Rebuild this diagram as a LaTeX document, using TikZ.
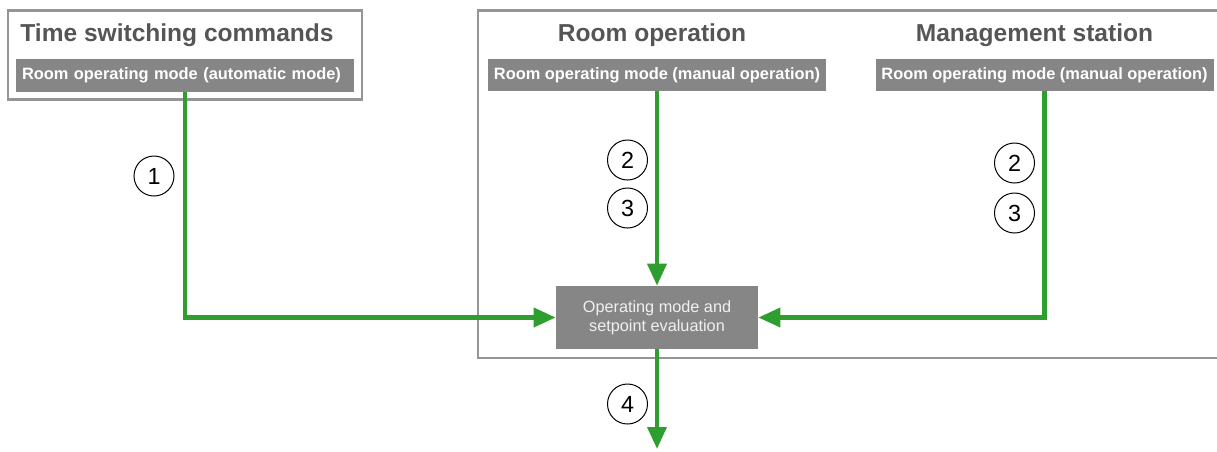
\documentclass[tikz,border=0pt]{standalone}
\usepackage{fontspec}
\setmainfont{Liberation Sans}
\usetikzlibrary{arrows.meta}

\definecolor{framegray}{HTML}{959595}
\definecolor{bargray}{HTML}{868686}
\definecolor{titlegray}{HTML}{555555}
\definecolor{flowgreen}{HTML}{2E9E2E}

\begin{document}
\begin{tikzpicture}[x=0.75pt, y=-0.75pt,
  frame/.style={draw=framegray, line width=1.8pt},
  title/.style={text=titlegray, font=\bfseries\fontsize{18.4}{22}\selectfont},
  modebar/.style={fill=bargray, text=white, inner sep=0pt,
    font=\bfseries\fontsize{12.3}{14}\selectfont,
    minimum width=253.5pt, minimum height=24pt},
  evalbox/.style={fill=bargray, text=white!94!black, align=center, inner sep=0pt,
    font=\fontsize{12.2}{14.3}\selectfont,
    minimum width=151.5pt, minimum height=47.25pt},
  flow/.style={draw=flowgreen, line width=3.4pt,
    -{Triangle[length=16.5pt, width=14pt]}},
  stepmark/.style={circle, draw, line width=0.75pt, inner sep=0pt,
    minimum size=30pt, font=\fontsize{17.5}{20}\selectfont}]

\useasboundingbox (0,0) rectangle (1217,451);

% frames
\draw[frame] (8,10.5) rectangle (362,99.5);
\draw[frame] (478,10.5) rectangle (1232,358);

% sources
\node[title] (tstitle) at (177,35) {Time switching commands};
\node[modebar, minimum height=24.75pt, inner xsep=4.5pt, text width=244.5pt, align=left]
  (tsbar) at (185,75.5) {Room operating mode (automatic mode)};

\node[title] (roptitle) at (652,35) {Room operation};
\node[modebar] (ropbar) at (657,75) {Room operating mode (manual operation)};

\node[title] (mstitle) at (1034.5,35) {Management station};
\node[modebar] (msbar) at (1044.5,75) {Room operating mode (manual operation)};

% evaluation
\node[evalbox] (eval) at (657,317.5) {Operating mode and\\setpoint evaluation};
\coordinate (out) at (657,449);

\draw[flow] (tsbar.south) |- (eval.west);
\draw[flow] (ropbar.south) -- (eval.north);
\draw[flow] (msbar.south) |- (eval.east);
\draw[flow] (eval.south) -- (out);

% steps
\node[stepmark] (s1) at (154,176) {1};
\node[stepmark] (s2a) at (627.5,160) {2};
\node[stepmark] (s3a) at (627.5,208) {3};
\node[stepmark] (s2b) at (1014.5,163) {2};
\node[stepmark] (s3b) at (1014.5,213) {3};
\node[stepmark] (s4) at (627.5,404) {4};

\end{tikzpicture}
\end{document}
